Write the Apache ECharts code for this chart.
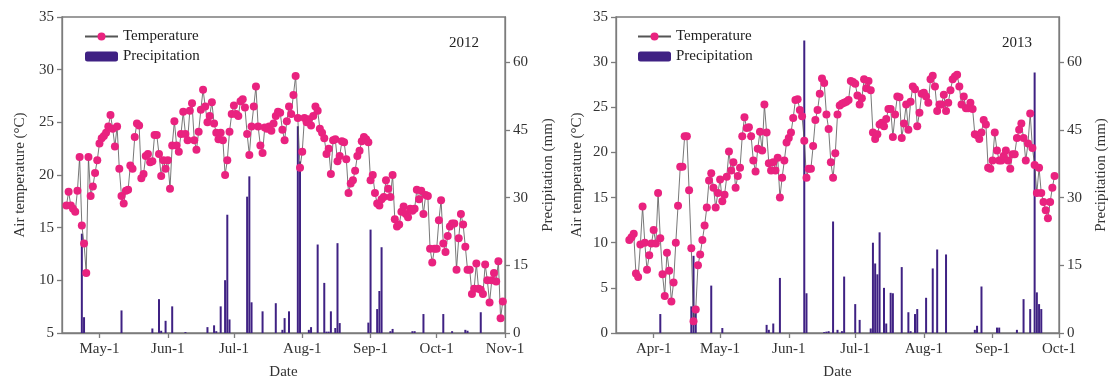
<!DOCTYPE html>
<html>
<head>
<meta charset="utf-8">
<script src="https://cdn.jsdelivr.net/npm/echarts@6/dist/echarts.min.js"></script>
<style>
  html, body { margin: 0; padding: 0; background: #fff; }
  #chart { width: 1110px; height: 385px; }
</style>
</head>
<body>
<div id="chart"></div>
<script>
'use strict';

// ---- 2012 panel ----
// daily mean air temperature, first value is 2012-04-16
var tempStart2012 = [2012, 4, 16];
var temp2012 = [
  17.1, 18.4, 17.1, 16.8, 16.5, 18.5, 21.7, 15.2, 13.5, 10.7,
  21.7, 18.0, 18.9, 20.2, 21.4, 23.0, 23.5, 23.7, 24.0, 24.6,
  25.7, 24.4, 22.7, 24.6, 20.6, 18.0, 17.3, 18.5, 18.6, 20.9,
  20.6, 23.6, 24.9, 24.7, 19.7, 20.1, 21.8, 22.0, 21.2, 21.3,
  23.8, 23.8, 22.0, 19.9, 21.4, 20.6, 21.4, 18.7, 22.8, 25.1,
  22.8, 22.2, 23.9, 26.0, 23.9, 23.3, 26.1, 26.8, 23.3, 22.4,
  24.1, 26.2, 28.1, 26.5, 25.0, 25.6, 26.9, 24.9, 24.0, 23.4,
  24.0, 23.3, 20.0, 21.4, 24.1, 25.8, 26.6, 25.8, 25.6, 27.0,
  27.2, 26.4, 23.9, 21.9, 24.6, 26.5, 28.4, 24.6, 22.8, 22.1,
  24.5, 24.4, 24.6, 24.2, 24.9, 25.6, 26.0,
  25.9, 24.3, 23.3, 25.1, 26.5, 25.8, 27.6, 29.4, 25.4, 20.7,
  22.2, 25.4, 25.0, 25.3, 24.7, 25.6, 26.5, 26.1, 24.4, 24.0,
  23.5, 22.0, 22.5, 20.1, 23.3, 23.4, 21.3, 21.8, 23.2, 23.1,
  21.5, 18.3, 19.2, 19.5, 20.4, 21.8, 22.3, 23.2, 23.6, 23.4,
  23.1, 19.5, 20.0, 18.3, 17.3, 17.1, 17.7, 17.9, 19.5, 18.7,
  17.9, 20.0, 15.8, 15.1, 15.3, 16.5, 17.0, 16.3, 16.0, 16.8,
  16.6, 16.8, 18.6, 17.7, 18.5, 16.3, 18.1, 18.0, 13.0, 11.7,
  13.0, 13.0, 15.7, 17.6, 13.5, 12.7, 14.2, 15.1, 15.4, 15.4,
  11.0, 14.0, 16.3, 15.3, 13.2, 11.0, 11.0, 8.7, 9.2, 11.6,
  9.2, 9.1, 8.7, 11.5, 10.0, 7.9, 10.0, 10.7, 9.9, 11.8,
  6.4, 8.0
];
// rainy days (days after 2012-04-14) and amounts in mm
var rainBase2012 = [2012, 4, 14];
var rainDay2012 = [9, 10, 27, 41, 44, 45, 47, 50, 56, 66, 69, 70, 72, 74, 75, 76,
  84, 85, 86, 91, 97, 100, 101, 103, 107, 108, 112, 113, 116, 119, 120, 121, 122,
  124, 125, 126, 139, 140, 143, 144, 145, 149, 150, 159, 160, 164, 173, 177, 183,
  184, 190];
var rainMm2012 = [22.0, 3.5, 5.0, 1.0, 7.5, 0.5, 2.7, 5.9, 0.2, 1.3, 1.7, 0.4, 5.9,
  11.7, 26.2, 3.0, 30.2, 34.7, 6.8, 4.8, 6.6, 0.7, 3.3, 4.8, 45.8, 38.0, 0.7, 1.3,
  19.6, 11.1, 0.3, 0.3, 4.8, 1.1, 19.9, 2.2, 2.3, 22.9, 5.3, 9.3, 19.0, 0.4, 0.9,
  0.4, 0.4, 4.2, 4.2, 0.4, 0.7, 0.5, 4.6];
var axisMin2012 = [2012, 4, 14];
var axisMax2012 = [2012, 11, 1];
var tickDates2012 = [[2012, 5, 1], [2012, 6, 1], [2012, 7, 1], [2012, 8, 1],
  [2012, 9, 1], [2012, 10, 1], [2012, 11, 1]];
var tickLabels2012 = ['May-1', 'Jun-1', 'Jul-1', 'Aug-1', 'Sep-1', 'Oct-1', 'Nov-1'];

// ---- 2013 panel ----
var tempStart2013 = [2013, 3, 21];
var temp2013 = [
  10.3, 10.6, 11.0, 6.6, 6.2, 9.8, 14.0, 10.0, 7.0, 8.6,
  9.9, 11.4, 9.9, 15.5, 10.5, 6.5, 4.1, 8.9, 6.9, 3.5,
  5.6, 10.0, 14.1, 18.4, 18.4, 21.8, 21.8, 15.8, 9.4, 1.3,
  2.6, 7.5, 8.7, 10.3, 11.9, 13.9, 16.9, 17.7, 16.1, 13.9,
  15.5, 17.0, 14.6, 15.3, 17.3, 20.1, 18.0, 18.9, 16.1, 17.4,
  18.3, 21.8, 23.9, 22.7, 22.8, 21.8, 19.1, 17.9, 20.4, 22.3,
  20.2, 25.3, 22.2, 18.8, 18.0, 18.9, 18.0, 19.4, 15.0, 17.2,
  19.1, 21.1, 21.6, 22.2, 23.8, 25.8, 25.9, 24.7, 24.0, 21.3,
  17.2, 18.2, 18.2, 20.7, 23.6, 24.7, 26.5, 28.2, 27.7, 24.2,
  22.6, 18.9, 17.2, 19.9, 24.2, 25.2, 25.4, 25.5,
  25.6, 25.8, 27.9, 27.8, 27.6, 26.3, 25.3, 26.0, 28.1, 27.1,
  27.9, 26.9, 22.2, 21.5, 22.0, 23.1, 23.3, 22.9, 23.7, 24.8,
  24.8, 21.7, 24.2, 26.2, 26.1, 21.6, 23.2, 25.3, 22.5, 25.6,
  27.3, 27.0, 22.9, 24.4, 26.5, 26.6, 26.2, 25.5, 28.1, 28.5,
  27.3, 24.6, 25.3, 25.3, 26.4, 24.6, 25.5, 26.9, 28.1, 28.4,
  28.6, 27.3, 25.3, 26.2, 24.9, 24.9, 25.5, 24.8, 22.0, 21.9,
  21.5, 22.2, 23.6, 23.1, 18.3, 18.2, 19.1, 22.2, 20.2, 19.1,
  19.1, 19.6, 20.2, 19.1, 18.2, 19.8, 19.8, 21.6, 22.5, 23.2,
  21.6, 19.1, 21.0, 24.3, 20.5, 18.6, 15.5, 18.3, 15.5, 14.5,
  13.6, 12.7, 14.5, 16.1, 17.4
];
// rainy days (days after 2013-03-15) and amounts in mm
var rainBase2013 = [2013, 3, 15];
var rainDay2013 = [20, 34, 35, 36, 43, 48, 68, 69, 71, 74, 85, 86, 94, 95, 96, 98,
  100, 102, 103, 108, 110, 115, 116, 117, 118, 119, 121, 122, 124, 125, 129, 132,
  133, 135, 136, 140, 143, 145, 149, 162, 163, 165, 172, 173, 181, 184, 187, 189,
  190, 191, 192];
var rainMm2013 = [4.2, 5.9, 17.1, 5.9, 10.5, 1.1, 1.8, 0.7, 2.1, 12.2, 64.8, 8.8,
  0.2, 0.3, 0.4, 24.7, 0.7, 0.4, 12.5, 6.4, 2.9, 1.0, 20.0, 15.4, 13.0, 22.3, 10.0,
  2.1, 8.9, 8.8, 14.6, 4.6, 0.4, 4.2, 5.3, 7.8, 14.3, 18.5, 17.4, 0.7, 1.6, 10.3,
  1.2, 1.2, 0.7, 7.5, 5.3, 57.7, 9.0, 6.4, 5.3];
var axisMin2013 = [2013, 3, 15];
var axisMax2013 = [2013, 10, 1];
var tickDates2013 = [[2013, 4, 1], [2013, 5, 1], [2013, 6, 1], [2013, 7, 1],
  [2013, 8, 1], [2013, 9, 1], [2013, 10, 1]];
var tickLabels2013 = ['Apr-1', 'May-1', 'Jun-1', 'Jul-1', 'Aug-1', 'Sep-1', 'Oct-1'];

var precipTicks = [0, 15, 30, 45, 60];

var FONT = '"Liberation Serif", "Times New Roman", serif';
var AXIS_COLOR = '#7c7c7c';
var TEXT_COLOR = '#333';

// dates are kept as day numbers (days since 1970-01-01) so the x axis can be a plain value axis
function dayNum(ymd, plus) {
  return Date.UTC(ymd[0], ymd[1] - 1, ymd[2] + (plus || 0)) / 86400000;
}

function dailySeries(start, values) {
  return values.map(function (v, i) { return [dayNum(start, i), v]; });
}

function rainSeries(base, days, mm) {
  return days.map(function (d, i) { return [dayNum(base, d), mm[i]]; });
}

function lineStyles() {
  return {
    axisLine: { show: true, onZero: false, lineStyle: { color: AXIS_COLOR, width: 1.3 } },
    axisTick: { show: true, inside: false, length: 5, lineStyle: { color: AXIS_COLOR, width: 1.3 } },
    splitLine: { show: false }
  };
}

function xAxis(grid, min, max, tickDates, tickLabels) {
  var ticks = tickDates.map(function (d) { return dayNum(d); });
  var base = lineStyles();
  return {
    type: 'value',
    gridIndex: grid,
    min: dayNum(min),
    max: dayNum(max),
    name: 'Date',
    nameLocation: 'middle',
    nameGap: 32,
    nameTextStyle: { fontFamily: FONT, fontSize: 15, color: TEXT_COLOR },
    axisLine: base.axisLine,
    axisTick: Object.assign({ customValues: ticks }, base.axisTick),
    splitLine: base.splitLine,
    axisLabel: {
      customValues: ticks,
      fontFamily: FONT,
      fontSize: 15,
      color: TEXT_COLOR,
      margin: 9,
      formatter: function (v) {
        var i = ticks.indexOf(v);
        return i >= 0 ? tickLabels[i] : '';
      }
    }
  };
}

function tempAxis(grid, min, gap) {
  var base = lineStyles();
  return {
    type: 'value',
    gridIndex: grid,
    min: min,
    max: 35,
    interval: 5,
    name: 'Air temperature (°C)',
    nameLocation: 'middle',
    nameGap: gap,
    nameTextStyle: { fontFamily: FONT, fontSize: 15, color: TEXT_COLOR },
    axisLine: base.axisLine,
    axisTick: base.axisTick,
    splitLine: base.splitLine,
    axisLabel: { fontFamily: FONT, fontSize: 15, color: TEXT_COLOR, margin: 8 }
  };
}

function precipAxis(grid, gap) {
  var base = lineStyles();
  return {
    type: 'value',
    gridIndex: grid,
    position: 'right',
    min: 0,
    max: 70,
    name: 'Precipitation (mm)',
    nameLocation: 'middle',
    nameGap: gap,
    nameTextStyle: { fontFamily: FONT, fontSize: 15, color: TEXT_COLOR },
    axisLine: base.axisLine,
    axisTick: Object.assign({ customValues: precipTicks }, base.axisTick),
    splitLine: base.splitLine,
    axisLabel: { customValues: precipTicks, fontFamily: FONT, fontSize: 15, color: TEXT_COLOR, margin: 8 }
  };
}

function barSeries(x, y, data) {
  return {
    name: 'Precipitation',
    type: 'bar',
    xAxisIndex: x,
    yAxisIndex: y,
    barWidth: 2,
    itemStyle: { color: '#3f2183' },
    data: data
  };
}

function lineSeries(x, y, data) {
  return {
    name: 'Temperature',
    type: 'line',
    xAxisIndex: x,
    yAxisIndex: y,
    symbol: 'circle',
    symbolSize: 8,
    showAllSymbol: true,
    itemStyle: { color: '#e9227f' },
    lineStyle: { color: '#555', width: 0.8 },
    data: data
  };
}

function legend(left) {
  return {
    left: left,
    top: 24,
    orient: 'vertical',
    itemWidth: 33,
    itemHeight: 10,
    itemGap: 5,
    textStyle: { fontFamily: FONT, fontSize: 15, color: '#222' },
    data: ['Temperature', 'Precipitation']
  };
}

var option = {
  animation: false,
  backgroundColor: '#fff',
  title: [
    { text: '2012', left: 444, top: 31, textStyle: { fontFamily: FONT, fontSize: 15, fontWeight: 'normal', color: '#222' } },
    { text: '2013', left: 997, top: 31, textStyle: { fontFamily: FONT, fontSize: 15, fontWeight: 'normal', color: '#222' } }
  ],
  legend: [legend(79), legend(632)],
  grid: [
    { left: 62, top: 17, width: 443, height: 318, show: true, borderColor: AXIS_COLOR, borderWidth: 1.3 },
    { left: 616, top: 17, width: 443, height: 318, show: true, borderColor: AXIS_COLOR, borderWidth: 1.3 }
  ],
  xAxis: [
    xAxis(0, axisMin2012, axisMax2012, tickDates2012, tickLabels2012),
    xAxis(1, axisMin2013, axisMax2013, tickDates2013, tickLabels2013)
  ],
  yAxis: [
    tempAxis(0, 5, 34),
    precipAxis(0, 36),
    tempAxis(1, 0, 31),
    precipAxis(1, 35)
  ],
  series: [
    barSeries(0, 1, rainSeries(rainBase2012, rainDay2012, rainMm2012)),
    lineSeries(0, 0, dailySeries(tempStart2012, temp2012)),
    barSeries(1, 3, rainSeries(rainBase2013, rainDay2013, rainMm2013)),
    lineSeries(1, 2, dailySeries(tempStart2013, temp2013))
  ]
};

var chart = echarts.init(document.getElementById('chart'));
chart.setOption(option);
</script>
</body>
</html>
